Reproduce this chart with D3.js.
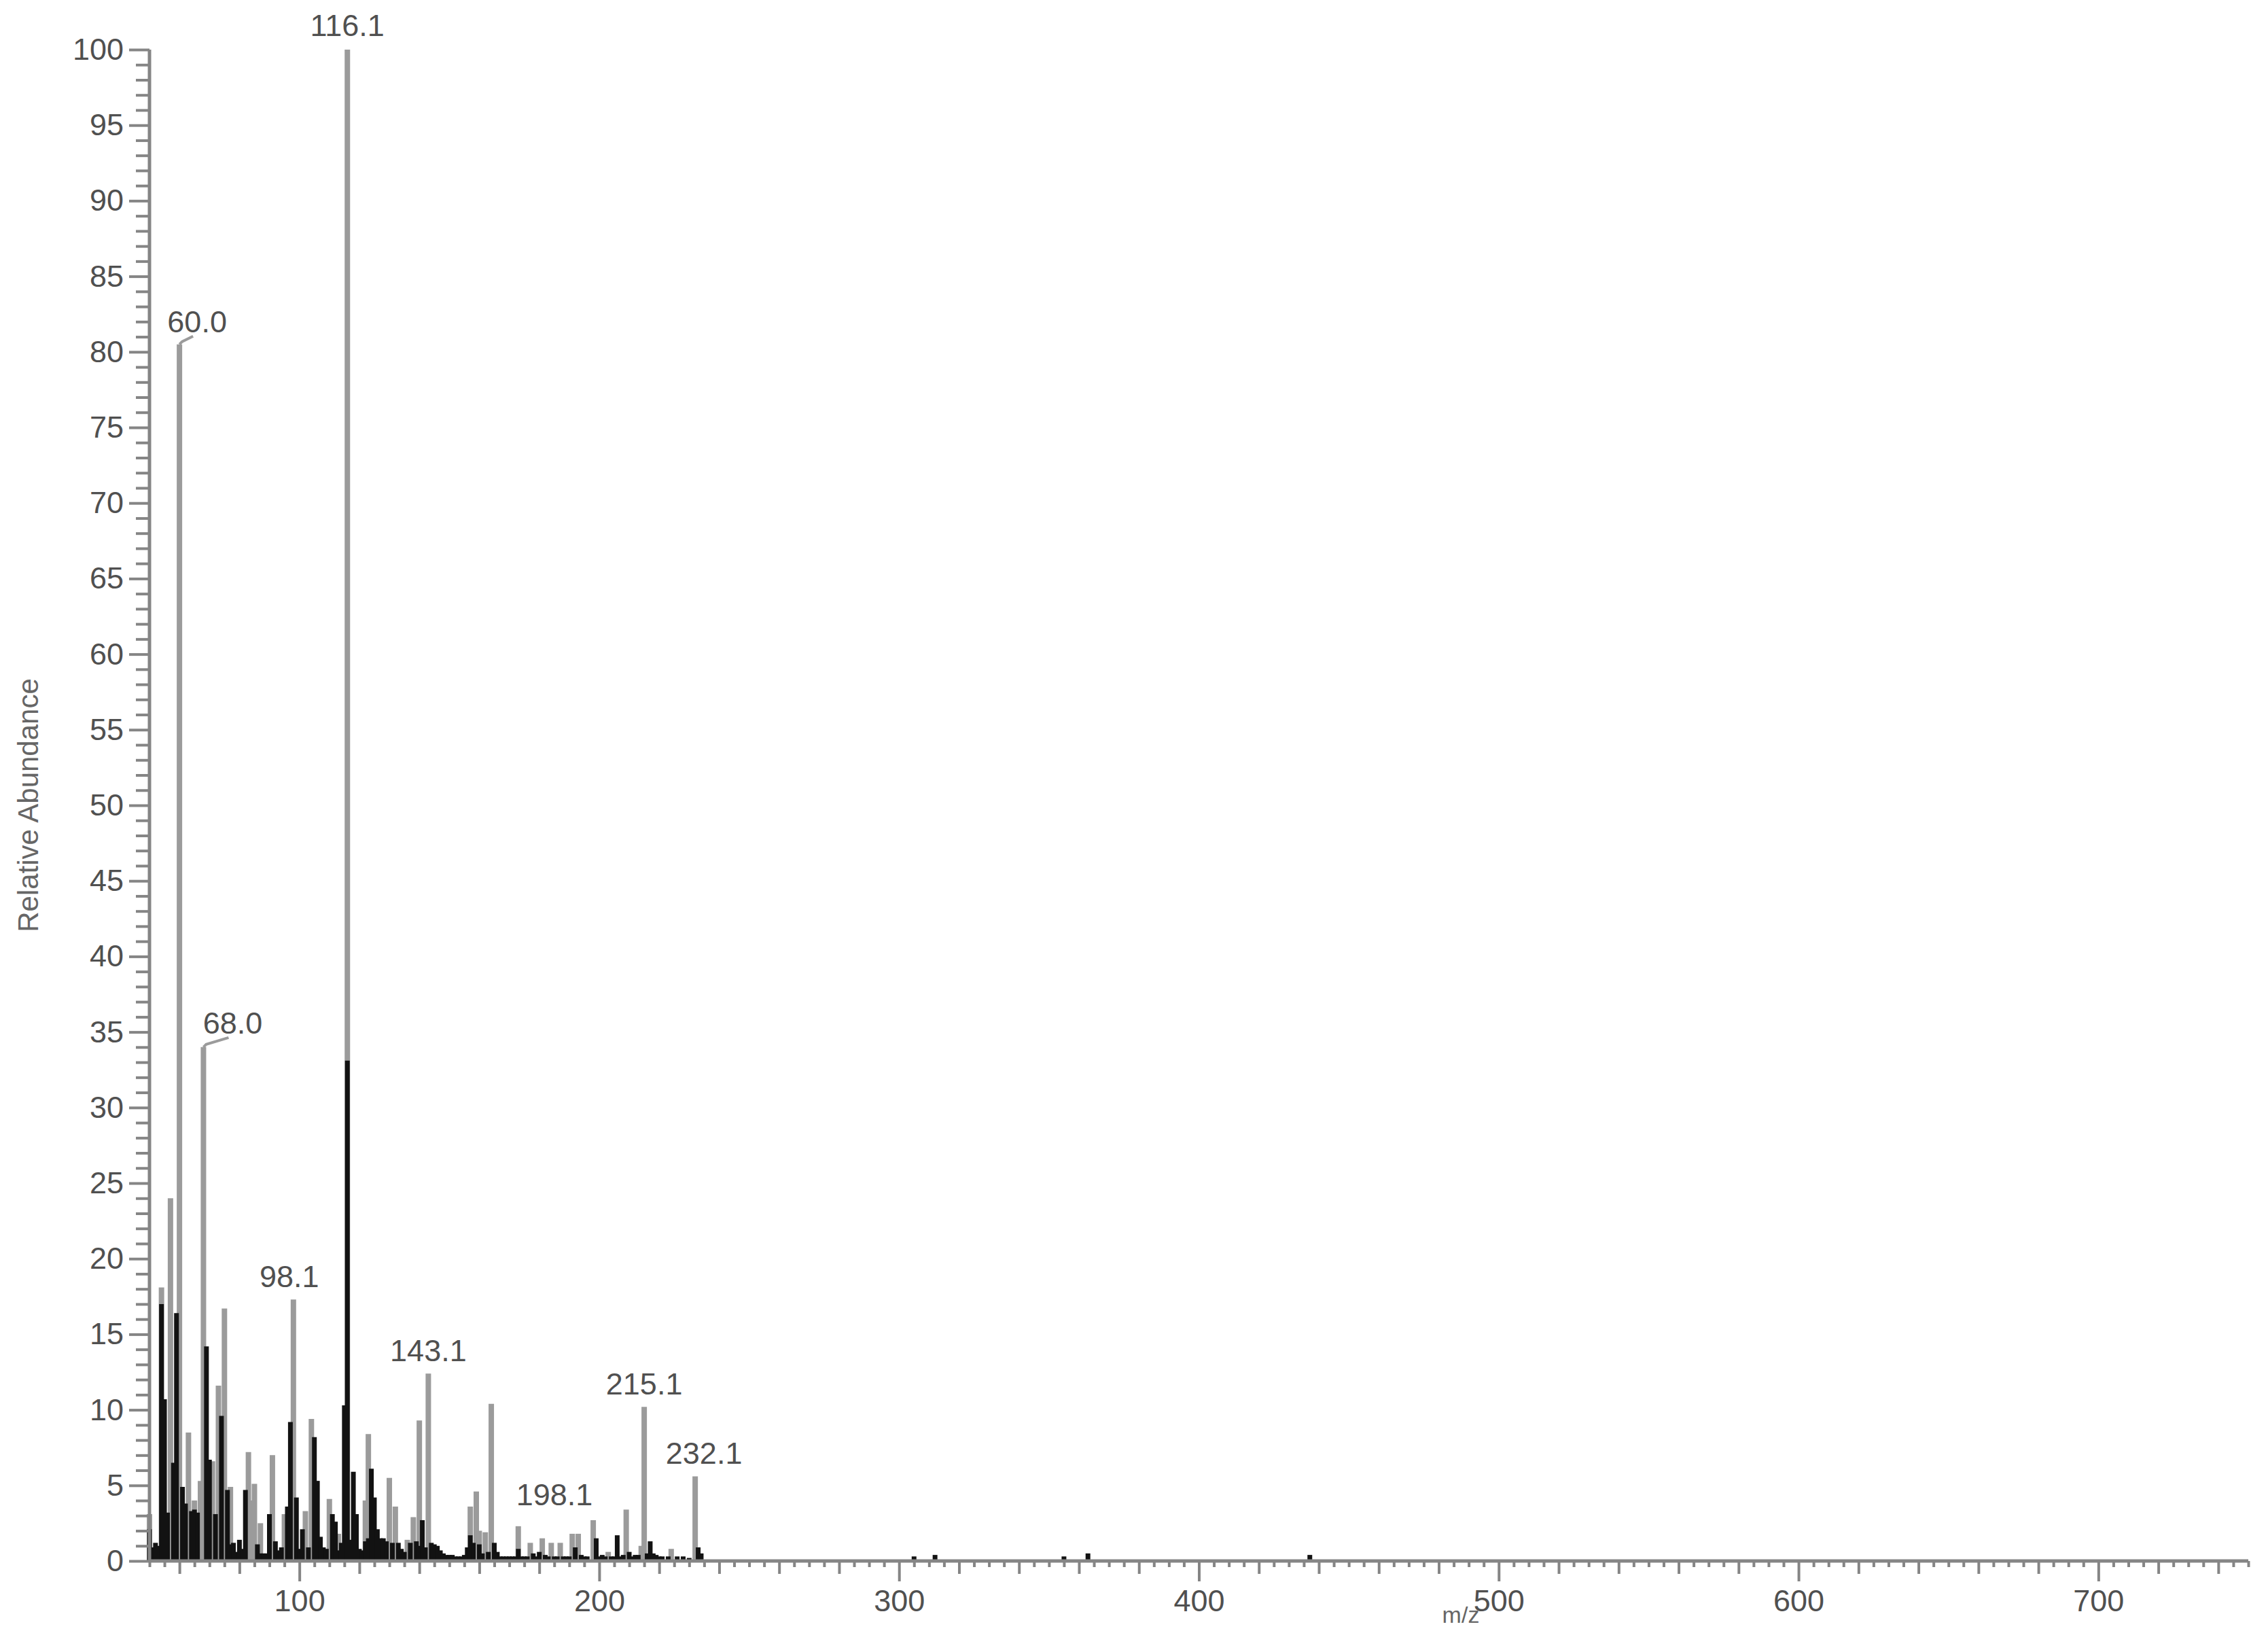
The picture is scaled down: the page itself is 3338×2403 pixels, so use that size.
<!DOCTYPE html>
<html>
<head>
<meta charset="utf-8">
<script src="https://cdn.jsdelivr.net/npm/d3@7"></script>
<style>
  body { margin: 0; background: #fff; }
  text { font-family: "Liberation Sans", Arial, sans-serif; }
</style>
</head>
<body>
<div id="chart"></div>
<script>
// [m/z, relative abundance].
// lightPeaks are the thin grey sticks, darkPeaks the black ones.
const lightPeaks = [
    [50, 3.1], [54, 18.1], [57, 24.0], [60, 80.5], [63, 8.5], [65, 4.0], [67, 5.3],
    [68, 34.0], [71, 6.6], [73, 11.6], [75, 16.7], [77, 4.9], [83, 7.2], [84, 4.0],
    [85, 5.1], [87, 2.5], [91, 7.0], [95, 3.1], [98, 17.3], [102, 3.3], [104, 9.4],
    [110, 4.1], [113, 1.8], [116, 100.0], [122, 4.0], [123, 8.4], [130, 5.5],
    [132, 3.6], [136, 1.4], [138, 2.9], [140, 9.3], [143, 12.4], [157, 3.6],
    [159, 4.6], [160, 2.0], [162, 1.9], [164, 10.4], [173, 2.3], [177, 1.2],
    [181, 1.5], [184, 1.2], [187, 1.2], [191, 1.8], [193, 1.8], [198, 2.7],
    [203, 0.6], [209, 3.4], [214, 1.0], [215, 10.2], [224, 0.8], [232, 5.6]
];
const darkPeaks = [
    [50, 2.1], [51, 0.9], [52, 1.2], [53, 1.0], [54, 17.0], [55, 10.7], [56, 3.2],
    [58, 6.5], [59, 16.4], [61, 4.9], [62, 3.8], [64, 3.3], [65, 3.4], [66, 3.2],
    [69, 14.2], [70, 6.7], [72, 3.1], [74, 9.6], [76, 4.7], [77, 1.1], [78, 1.2],
    [79, 0.6], [80, 1.4], [81, 0.8], [82, 4.7], [86, 1.1], [87, 0.5], [88, 0.5],
    [89, 0.5], [90, 3.1], [92, 1.3], [93, 0.7], [94, 0.9], [96, 3.6], [97, 9.2],
    [99, 4.2], [100, 0.8], [101, 2.1], [103, 0.9], [105, 8.2], [106, 5.3],
    [107, 1.6], [108, 0.9], [109, 0.8], [111, 3.1], [112, 2.6], [113, 0.7],
    [114, 1.2], [115, 10.3], [116, 33.1], [117, 1.4], [118, 5.9], [119, 3.1],
    [120, 0.8], [121, 0.7], [122, 1.3], [123, 1.5], [124, 6.1], [125, 4.2],
    [126, 2.1], [127, 1.5], [128, 1.5], [129, 1.3], [131, 1.2], [133, 1.2],
    [134, 0.8], [135, 0.6], [137, 1.2], [139, 1.3], [140, 1.0], [141, 2.7],
    [142, 0.9], [144, 1.2], [145, 1.1], [146, 1.0], [147, 0.7], [148, 0.5],
    [149, 0.4], [150, 0.4], [151, 0.4], [152, 0.3], [153, 0.3], [154, 0.3],
    [155, 0.4], [156, 0.9], [157, 1.7], [158, 1.2], [160, 1.1], [161, 0.5],
    [163, 0.6], [165, 1.2], [166, 0.6], [167, 0.3], [168, 0.3], [169, 0.3],
    [170, 0.3], [171, 0.3], [172, 0.3], [173, 0.8], [174, 0.3], [175, 0.3],
    [176, 0.3], [178, 0.5], [179, 0.3], [180, 0.6], [182, 0.4], [183, 0.3],
    [185, 0.3], [186, 0.3], [188, 0.3], [189, 0.3], [190, 0.3], [192, 0.9],
    [194, 0.4], [195, 0.3], [196, 0.3], [199, 1.5], [200, 0.3], [201, 0.4],
    [202, 0.3], [204, 0.3], [205, 0.3], [206, 1.7], [207, 0.3], [208, 0.4],
    [210, 0.6], [211, 0.3], [212, 0.4], [213, 0.4], [216, 0.5], [217, 1.3],
    [218, 0.5], [219, 0.4], [220, 0.3], [221, 0.3], [223, 0.3], [226, 0.3],
    [228, 0.3], [230, 0.2], [233, 0.9], [234, 0.5], [305, 0.3], [312, 0.4],
    [355, 0.3], [363, 0.5], [437, 0.4]
];
const peakLabels = ["60.0", "68.0", "98.1", "116.1", "143.1", "198.1", "215.1", "232.1"];
const xTickLabels = [100, 200, 300, 400, 500, 600, 700];
const yTickLabels = [0, 5, 10, 15, 20, 25, 30, 35, 40, 45, 50, 55, 60, 65, 70, 75, 80, 85, 90, 95, 100];

const width = 3338, height = 2403;
const axisColor = "#858585";
const textColor = "#505050";

const svg = d3.select("#chart").append("svg")
    .attr("width", width)
    .attr("height", height);

const x = d3.scaleLinear().domain([50, 750]).range([220, 3309]);
const y = d3.scaleLinear().domain([0, 100]).range([2297, 73]);

// sticks: grey first, black on top
svg.append("g").selectAll("line")
    .data(lightPeaks)
    .join("line")
    .attr("x1", d => x(d[0])).attr("x2", d => x(d[0]))
    .attr("y1", y(0)).attr("y2", d => y(d[1]))
    .attr("stroke", "#9b9b9b")
    .attr("stroke-width", 8);

svg.append("g").selectAll("line")
    .data(darkPeaks)
    .join("line")
    .attr("x1", d => x(d[0])).attr("x2", d => x(d[0]))
    .attr("y1", y(0)).attr("y2", d => y(d[1]))
    .attr("stroke", "#121212")
    .attr("stroke-width", 7);

// x axis: minor every 5, medium every 20, major every 100
function styleAxis(g) {
    g.select(".domain").remove();
    g.selectAll(".tick line").attr("stroke", axisColor).attr("stroke-width", 4);
    g.selectAll(".tick text")
        .attr("fill", textColor)
        .attr("font-size", 45);
}

const xMinor = d3.range(50, 751, 5).filter(v => v % 20 !== 0);
const xMedium = d3.range(60, 751, 20).filter(v => v % 100 !== 0);

svg.append("g").attr("transform", `translate(0,${y(0)})`)
    .call(d3.axisBottom(x).tickValues(xMinor).tickSize(9).tickFormat(""))
    .call(styleAxis);
svg.append("g").attr("transform", `translate(0,${y(0)})`)
    .call(d3.axisBottom(x).tickValues(xMedium).tickSize(19).tickFormat(""))
    .call(styleAxis);
svg.append("g").attr("transform", `translate(0,${y(0)})`)
    .call(d3.axisBottom(x).tickValues(xTickLabels).tickSize(30).tickPadding(12).tickFormat(d3.format("d")))
    .call(styleAxis);

svg.append("line")
    .attr("x1", x(50)).attr("x2", x(750))
    .attr("y1", y(0)).attr("y2", y(0))
    .attr("stroke", axisColor).attr("stroke-width", 5);

// y axis: minor every 1, labelled every 5
const yMinor = d3.range(0, 101, 1).filter(v => v % 5 !== 0);
svg.append("g").attr("transform", `translate(${x(50)},0)`)
    .call(d3.axisLeft(y).tickValues(yMinor).tickSize(20).tickFormat(""))
    .call(styleAxis);
svg.append("g").attr("transform", `translate(${x(50)},0)`)
    .call(d3.axisLeft(y).tickValues(yTickLabels).tickSize(30).tickPadding(8).tickFormat(d3.format("d")))
    .call(styleAxis);

svg.append("line")
    .attr("x1", x(50)).attr("x2", x(50))
    .attr("y1", y(0)).attr("y2", y(100))
    .attr("stroke", axisColor).attr("stroke-width", 5);

// peak annotations
const allPeaks = lightPeaks.concat(darkPeaks);
const labelShift = {
    "60.0": { dx: 26, lift: 18, bent: true },
    "68.0": { dx: 43, lift: 20, bent: true },
    "98.1": { dx: -6, lift: 18 },
    "116.1": { dx: 0, lift: 20 },
    "143.1": { dx: 0, lift: 18 },
    "198.1": { dx: -57, lift: 22 },
    "215.1": { dx: 0, lift: 18 },
    "232.1": { dx: 13, lift: 18 }
};

const annot = svg.append("g");
peakLabels.forEach(function (lab) {
    const mz = Math.round(+lab);
    const top = d3.max(allPeaks.filter(p => p[0] === mz), p => p[1]);
    const px = x(mz), py = y(top);
    const s = labelShift[lab];
    if (s.bent) {
        annot.append("path")
            .attr("d", `M${px},${py}L${px + 4},${py - 4}L${px + s.dx - 6},${py - s.lift + 6}`)
            .attr("fill", "none")
            .attr("stroke", "#9b9b9b")
            .attr("stroke-width", 4);
    }
    annot.append("text")
        .attr("x", px + s.dx)
        .attr("y", py - s.lift)
        .attr("text-anchor", "middle")
        .attr("fill", textColor)
        .attr("font-size", 45)
        .text(lab);
});

// axis titles
svg.append("text")
    .attr("transform", `translate(56,${1185}) rotate(-90)`)
    .attr("text-anchor", "middle")
    .attr("fill", "#666")
    .attr("font-size", 42)
    .text("Relative Abundance");

// the x title sits right at the bottom edge, as in the original
svg.append("text")
    .attr("x", 2150)
    .attr("y", 2388)
    .attr("text-anchor", "middle")
    .attr("fill", "#666")
    .attr("font-size", 34)
    .text("m/z");
</script>
</body>
</html>
